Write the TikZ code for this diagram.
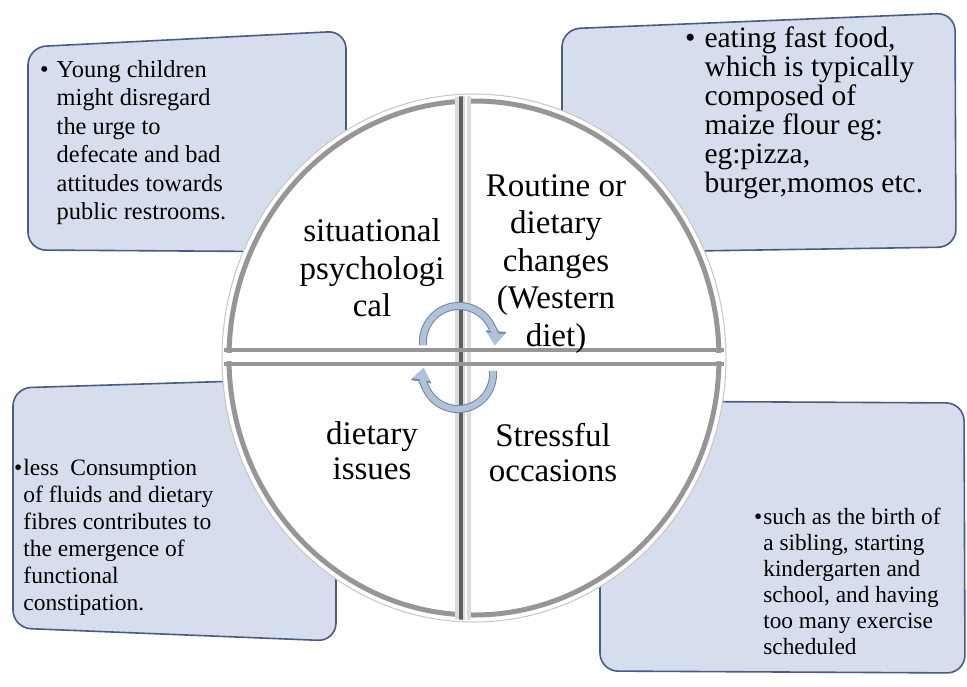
\documentclass[tikz,border=0pt]{standalone}
\usepackage{fontspec}
\setmainfont{Liberation Serif}
\usetikzlibrary{arrows.meta}

\definecolor{panelfill}{RGB}{214,222,238}
\definecolor{panelline}{RGB}{72,92,132}
\definecolor{rimgray}{RGB}{150,150,150}
\definecolor{groovedark}{RGB}{95,95,95}
\definecolor{arrowfill}{RGB}{176,194,218}
\definecolor{arrowedge}{RGB}{112,132,164}

\begin{document}
\begin{tikzpicture}[
  x=1pt, y=-1pt,
  panel/.style={draw=panelline, line width=1.6pt, fill=panelfill, rounded corners=18pt},
  note/.style={inner sep=0pt, anchor=base west, font=\fontsize{24.4}{28.5}\selectfont},
  big note/.style={note, font=\fontsize{29.5}{28.5}\selectfont},
  small note/.style={note, font=\fontsize{23.5}{27}\selectfont},
  quad/.style={align=center, inner sep=0pt, font=\fontsize{33}{37.5}\selectfont},
  low quad/.style={quad, font=\fontsize{33}{35}\selectfont},
  cyclearrow/.style={arrowfill, line width=6pt, -{Triangle[length=12pt,width=17pt]},
    preaction={draw=arrowedge, line width=8pt, -{Triangle[length=14pt,width=20pt]}}}
]
\useasboundingbox (0,0) rectangle (967,686);
\fill[white] (0,0) rectangle (967,686);

% corner panels
\draw[panel] (28,47) -- (346,31) -- (346,252) -- (28,250) -- cycle;
\draw[panel] (562,29) -- (955,13) -- (956,247) -- (562,253) -- cycle;
\draw[panel] (13,388) -- (336,378) -- (336,641) -- (13,628) -- cycle;
\draw[panel] (600,401) -- (964,403) -- (965,673) -- (600,671) -- cycle;

\node[note] (young) at (40,77) {\begin{tabular}[t]{@{}l@{\hspace{8pt}}l@{}}
  \textbullet & Young children\\ & might disregard\\ & the urge to\\
  & defecate and bad\\ & attitudes towards\\ & public restrooms.\end{tabular}};
\node[big note] (fastfood) at (685,47) {\begin{tabular}[t]{@{}l@{\hspace{9pt}}l@{}}
  \textbullet & eating fast food,\\ & which is typically\\ & composed of\\
  & maize flour eg:\\ & eg:pizza,\\ & burger,momos etc.\end{tabular}};
\node[small note] (fluids) at (14,475) {\begin{tabular}[t]{@{}l@{\hspace{1pt}}l@{}}
  \textbullet & less~ Consumption\\ & of fluids and dietary\\ & fibres contributes to\\
  & the emergence of\\ & functional\\ & constipation.\end{tabular}};
\node[small note, font=\fontsize{23.3}{26}\selectfont] (sibling) at (754,524) {\begin{tabular}[t]{@{}l@{\hspace{1pt}}l@{}}
  \textbullet & such as the birth of\\ & a sibling, starting\\ & kindergarten and\\
  & school, and having\\ & too many exercise\\ & scheduled\end{tabular}};

% the disc
\coordinate (hub) at (474,358);
\fill[white] (hub) ellipse [x radius=252, y radius=264];
\draw[gray!45, line width=1pt] (hub) ellipse [x radius=252, y radius=264];
\draw[rimgray, line width=5pt] (hub) ellipse [x radius=245, y radius=257];
\begin{scope}
  \clip (hub) ellipse [x radius=250, y radius=262];
  \fill[gray!28] (455,90) rectangle (471,625);
  \draw[groovedark, line width=3.5pt] (461,90) -- (461,625);
  \draw[white, line width=2pt] (466,90) -- (466,625);
  \draw[rimgray, line width=3.5pt] (220,350) -- (730,350) (220,364) -- (730,364);
  \fill[white] (471,353) rectangle (730,361) (220,353) rectangle (455,361);
\end{scope}

\node[quad] (situational) at (372,268) {situational\\psychologi\\cal};
\node[quad] (routine) at (556,264) {Routine or\\dietary\\changes\\(Western\\diet)};
\node[low quad] (dietary) at (372,451) {dietary\\issues};
\node[low quad] (stressful) at (553,453) {Stressful\\occasions};

% turning arrows
\coordinate (upperturn) at (423.1,345.1);
\coordinate (lowerturn) at (492.9,371.0);
\draw[cyclearrow] (upperturn) arc [start angle=175, end angle=365, radius=36];
\draw[cyclearrow] (lowerturn) arc [start angle=-5, end angle=190, radius=35];
\end{tikzpicture}
\end{document}
